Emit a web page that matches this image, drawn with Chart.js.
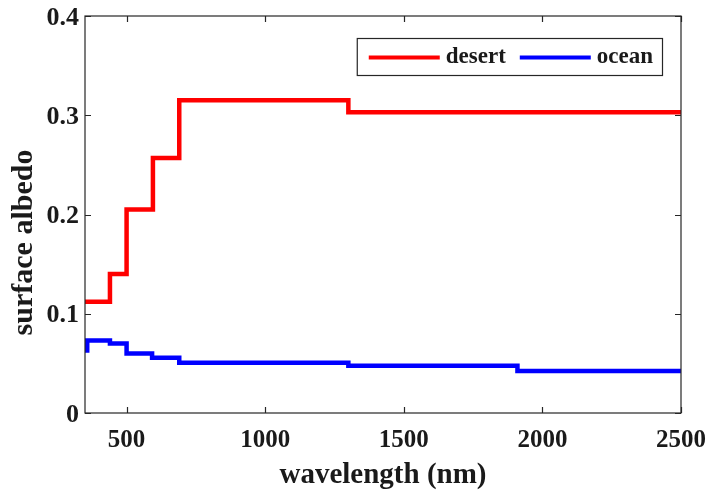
<!DOCTYPE html>
<html>
<head>
<meta charset="utf-8">
<script src="https://cdn.jsdelivr.net/npm/chart.js@4.4.1/dist/chart.umd.min.js"></script>
<style>
  html, body { margin: 0; padding: 0; background: #fff; }
  #wrap { width: 709px; height: 491px; position: relative; }
</style>
</head>
<body>
<div id="wrap"><canvas id="c"></canvas></div>
<script>
const FONT = "'Liberation Serif', 'Times New Roman', serif";
const INK = '#1a1a1a';
const AXIS = '#262626';

// step start wavelengths (nm) and albedo values
const desertX = [350, 440, 500, 595, 690, 1300, 2500];
const desertY = [0.112, 0.140, 0.205, 0.257, 0.315, 0.303, 0.303];
const oceanX = [350, 358, 440, 500, 592, 690, 1300, 1910, 2500];
const oceanY = [0.063, 0.073, 0.070, 0.060, 0.0557, 0.0507, 0.0477, 0.0423, 0.0423];
const xTicks = [500, 1000, 1500, 2000, 2500];
const yTicks = [0, 0.1, 0.2, 0.3, 0.4];
const yTitle = 'surface albedo';

const pts = (xs, ys) => xs.map((x, i) => ({ x, y: ys[i] }));

// box around the axes + inward tick marks on all four sides
const frame = {
  id: 'frame',
  afterDatasetsDraw(chart) {
    const { ctx, chartArea: a, scales: { x, y } } = chart;
    const L = 6;
    ctx.save();
    ctx.strokeStyle = AXIS; ctx.lineWidth = 1.2;
    ctx.strokeRect(a.left, a.top, a.right - a.left, a.bottom - a.top);
    ctx.beginPath();
    for (const t of xTicks) {
      const px = Math.round(x.getPixelForValue(t)) + 0.5;
      ctx.moveTo(px, a.bottom); ctx.lineTo(px, a.bottom - L);
      ctx.moveTo(px, a.top); ctx.lineTo(px, a.top + L);
    }
    for (const t of yTicks) {
      const py = Math.round(y.getPixelForValue(t)) + 0.5;
      ctx.moveTo(a.left, py); ctx.lineTo(a.left + L, py);
      ctx.moveTo(a.right, py); ctx.lineTo(a.right - L, py);
    }
    ctx.stroke();
    // y label sits a bit below the axis middle in the original
    ctx.font = 'bold 30px ' + FONT;
    ctx.fillStyle = INK; ctx.textAlign = 'center'; ctx.textBaseline = 'middle';
    ctx.translate(24, (a.top + a.bottom) / 2 + 28);
    ctx.rotate(-Math.PI / 2);
    ctx.fillText(yTitle, 0, 0);
    ctx.restore();
  },
};

// MATLAB-style horizontal legend in the upper right corner
const legendBox = {
  id: 'legendBox',
  afterDraw(chart) {
    const { ctx, chartArea: a } = chart;
    const sets = chart.data.datasets;
    ctx.save();
    ctx.font = 'bold 23px ' + FONT;
    const lineLen = 71, gapLT = 6, gapItem = 14, padL = 12, padR = 9, h = 37;
    const widths = sets.map((d) => ctx.measureText(d.label).width);
    let w = padL + padR;
    widths.forEach((tw, i) => { w += lineLen + gapLT + tw + (i < sets.length - 1 ? gapItem : 0); });
    const bx = a.right - 19 - w, by = a.top + 22;
    ctx.fillStyle = '#fff';
    ctx.fillRect(bx, by, w, h);
    ctx.strokeStyle = AXIS; ctx.lineWidth = 1.2;
    ctx.strokeRect(bx + 0.5, by + 0.5, w, h);
    let cx = bx + padL;
    const cy = by + h / 2 + 1;
    sets.forEach((d, i) => {
      ctx.strokeStyle = d.borderColor; ctx.lineWidth = 4;
      ctx.beginPath(); ctx.moveTo(cx, cy); ctx.lineTo(cx + lineLen, cy); ctx.stroke();
      cx += lineLen + gapLT;
      ctx.fillStyle = INK; ctx.textBaseline = 'middle'; ctx.textAlign = 'left';
      ctx.fillText(d.label, cx, cy);
      cx += widths[i] + gapItem;
    });
    ctx.restore();
  },
};

new Chart(document.getElementById('c'), {
  type: 'line',
  data: {
    datasets: [
      { label: 'desert', data: pts(desertX, desertY), borderColor: '#ff0000', borderWidth: 4.5, stepped: 'before', pointRadius: 0, fill: false },
      { label: 'ocean', data: pts(oceanX, oceanY), borderColor: '#0000ff', borderWidth: 4.5, stepped: 'before', pointRadius: 0, fill: false },
    ],
  },
  options: {
    responsive: true, maintainAspectRatio: false, animation: false,
    layout: { padding: { top: 16, right: 28, left: 0, bottom: 0 } },
    plugins: { legend: { display: false }, tooltip: { enabled: false } },
    scales: {
      x: {
        type: 'linear', min: 350, max: 2500,
        afterBuildTicks: (s) => { s.ticks = xTicks.map((v) => ({ value: v })); },
        afterFit: (s) => { s.height = 78; s.paddingLeft = 0; s.paddingRight = 0; },
        grid: { display: false, drawTicks: false },
        border: { display: false },
        ticks: { font: { family: FONT, size: 25, weight: 'bold' }, color: INK, padding: 13, maxRotation: 0,
          callback: (v) => String(v) },
        title: { display: true, text: 'wavelength (nm)', color: INK, font: { family: FONT, size: 29, weight: 'bold' }, padding: { top: 0, bottom: -2 } },
      },
      y: {
        min: 0, max: 0.4,
        afterBuildTicks: (s) => { s.ticks = yTicks.map((v) => ({ value: v })); },
        afterFit: (s) => { s.width = 85; s.paddingTop = 0; s.paddingBottom = 0; },
        grid: { display: false, drawTicks: false },
        border: { display: false },
        ticks: { font: { family: FONT, size: 26, weight: 'bold' }, color: INK, padding: 6, labelOffset: 2,
          callback: (v) => (v === 0 ? '0' : v.toFixed(1)) },
      },
    },
  },
  plugins: [frame, legendBox],
});
</script>
</body>
</html>
